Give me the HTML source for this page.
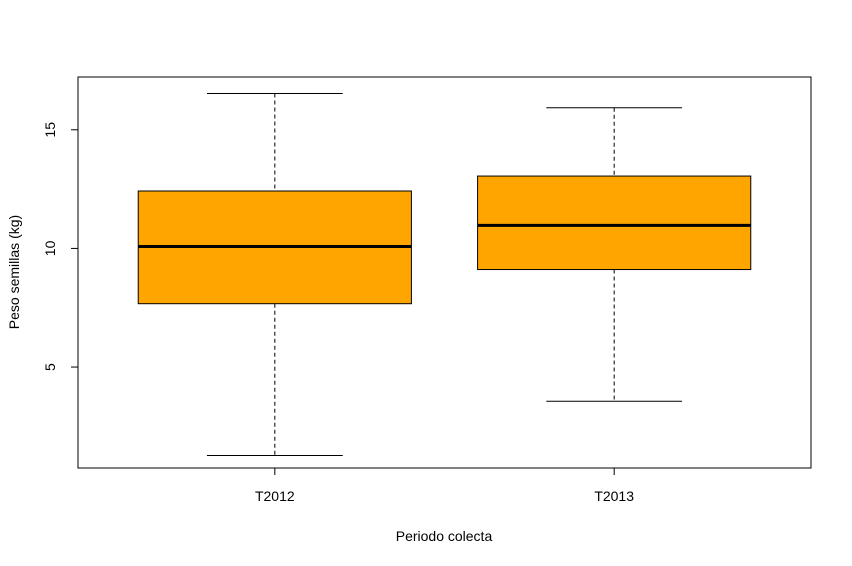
<!DOCTYPE html>
<html><head><meta charset="utf-8"><style>
body{margin:0;background:#fff}
svg{display:block;font-family:"Liberation Sans",Arial,sans-serif}
</style></head><body>
<svg id="chart" width="852" height="566" viewBox="0 0 852 566">
<rect x="0" y="0" width="852" height="566" fill="#fff"/>
<g id="marks"></g>
<rect x="78" y="77" width="733" height="391" fill="none" stroke="#000" stroke-width="1"/>
<g id="axes"></g>
<text x="444" y="541" text-anchor="middle" font-size="14">Periodo colecta</text>
<text transform="translate(19,272) rotate(-90)" text-anchor="middle" font-size="14">Peso semillas (kg)</text>
</svg>
<script>
const categories=["T2012","T2013"];
const mins=[1.27,3.56];
const q1s=[7.67,9.11];
const medians=[10.08,10.97];
const q3s=[12.42,13.05];
const maxs=[16.53,15.93];
const yTicks=[5,10,15];

const NS="http://www.w3.org/2000/svg";
const px0=78,px1=811,py0=468,py1=77;
const xmin=0.42,xmax=2.58,ymin=0.745,ymax=17.225;
const X=v=>px0+(v-xmin)/(xmax-xmin)*(px1-px0);
const Y=v=>py0-(v-ymin)/(ymax-ymin)*(py0-py1);
function mk(tag,attrs,parent){const e=document.createElementNS(NS,tag);for(const k in attrs)e.setAttribute(k,attrs[k]);parent.appendChild(e);return e;}
const marks=document.getElementById('marks'),axes=document.getElementById('axes');
const bw=0.4025,cw=0.2;
categories.forEach((c,i)=>{
  const cx=X(i+1);
  const g=mk('g',{},marks);
  
  
  let w=mk('line',{x1:cx,x2:cx,y1:Y(maxs[i]),y2:Y(q3s[i]),stroke:'#000','stroke-dasharray':'4,3'},g);
  
  
  w=mk('line',{x1:cx,x2:cx,y1:Y(q1s[i]),y2:Y(mins[i]),stroke:'#000','stroke-dasharray':'4,3'},g);
  
  
  let cap=mk('line',{x1:X(i+1-cw),x2:X(i+1+cw),y1:Y(maxs[i]),y2:Y(maxs[i]),stroke:'#000'},g);
  
  
  cap=mk('line',{x1:X(i+1-cw),x2:X(i+1+cw),y1:Y(mins[i]),y2:Y(mins[i]),stroke:'#000'},g);
  
  
  const r=mk('rect',{x:X(i+1-bw),y:Y(q3s[i]),width:X(i+1+bw)-X(i+1-bw),height:Y(q1s[i])-Y(q3s[i]),fill:'#ffa500',stroke:'#000'},g);
  
  
  const m=mk('line',{x1:X(i+1-bw),x2:X(i+1+bw),y1:Y(medians[i]),y2:Y(medians[i]),stroke:'#000','stroke-width':3},g);
  
  
  const t=mk('line',{x1:cx,x2:cx,y1:468,y2:475,stroke:'#000'},axes);
  
  
  const l=mk('text',{x:cx,y:501,'text-anchor':'middle','font-size':14},axes);
  l.textContent=c;
  
  
});
yTicks.forEach(v=>{
  const y=Y(v);
  const t=mk('line',{x1:71,x2:78,y1:y,y2:y,stroke:'#000'},axes);
  
  
  const l=mk('text',{transform:`translate(55,${y}) rotate(-90)`,'text-anchor':'middle','font-size':14},axes);
  l.textContent=v;
  
  
});
</script>
</body></html>
